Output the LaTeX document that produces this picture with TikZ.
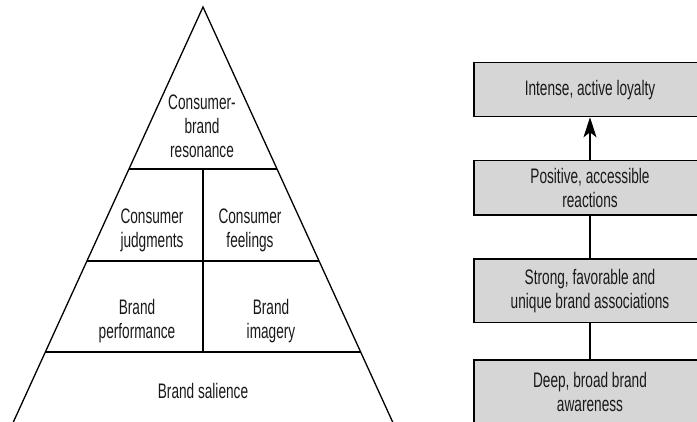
\documentclass[tikz,border=0pt]{standalone}
\usepackage{fontspec}
\setmainfont{Liberation Sans}[FakeStretch=0.65]
\usetikzlibrary{arrows.meta}
\definecolor{boxfill}{RGB}{214,214,214}
\definecolor{txt}{RGB}{25,25,25}
\tikzset{
  lbl/.style={align=center, text=txt, font=\fontsize{21}{24}\selectfont, inner sep=0pt},
  stagebox/.style={draw=black, line width=1.2pt, fill=boxfill, minimum width=232pt, inner sep=0pt,
    align=center, text=txt, font=\fontsize{21}{24.5}\selectfont},
  edge/.style={line width=1.2pt, draw=black},
  pyr/.style={line width=1.3pt, draw=black}
}
\begin{document}
\begin{tikzpicture}[x=1pt,y=-1pt]
\useasboundingbox (0,0) rectangle (697,422);
\clip (0,0) rectangle (697,422);
% pyramid
\coordinate (apex) at (203,7);
\coordinate (bl) at (9.7,430);
\coordinate (br) at (396.3,430);
\coordinate (l1) at (129,169);
\coordinate (r1) at (277,169);
\coordinate (l2) at (87,261);
\coordinate (r2) at (319,261);
\coordinate (l3) at (45.3,352);
\coordinate (r3) at (360.7,352);
\coordinate (m1) at (203,169);
\coordinate (m3) at (203,352);
\draw[pyr, line join=miter] (bl) -- (apex) -- (br);
\draw[pyr] (l1) -- (r1);
\draw[pyr] (l2) -- (r2);
\draw[pyr] (l3) -- (r3);
\draw[pyr] (m1) -- (m3);
\node[lbl] (res) at (202,126) {Consumer-\\brand\\resonance};
\node[lbl] (jud) at (152,230) {Consumer\\judgments};
\node[lbl] (fee) at (250,230) {Consumer\\feelings};
\node[lbl] (per) at (137,321) {Brand\\performance};
\node[lbl] (ima) at (271,321) {Brand\\imagery};
\node[lbl] (sal) at (203,391) {Brand salience};
% ladder
\node[stagebox, minimum height=54pt] (b1) at (590,89.7) {Intense, active loyalty};
\node[stagebox, minimum height=54.3pt] (b2) at (590,187.9) {Positive, accessible\\reactions};
\node[stagebox, minimum height=63.7pt] (b3) at (590,290.9) {Strong, favorable and\\unique brand associations};
\node[stagebox, minimum height=63.7pt] (b4) at (590,391.9) {Deep, broad brand\\awareness};
\draw[edge] (b4) -- (b3);
\draw[edge] (b3) -- (b2);
\draw[edge, -{Stealth[length=20pt,width=13pt,inset=5pt]}] (b2) -- (b1);
\end{tikzpicture}
\end{document}
